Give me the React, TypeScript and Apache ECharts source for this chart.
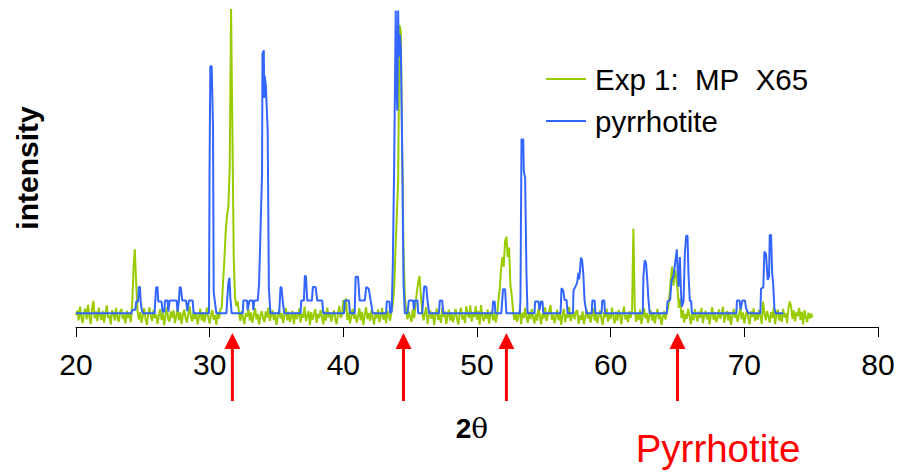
import React, { useEffect, useRef } from "react";
import * as echarts from "echarts";

// Measured pattern of the MP X65 sample (2θ from 20.0 in 0.1° steps)
const expStart = 20;
const expStep = 0.1;
const expIntensity = [
  // 20
  3.8, 5.2, 2.1, 6.4, 3.0, 1.2, 4.6, 5.8, 2.4, 7.0,
  // 21
  3.3, 0.9, 5.5, 8.2, 2.7, 4.9, 1.8, 6.1, 3.6, 2.2,
  // 22
  5.0, 1.4, 4.2, 6.8, 2.9, 3.7, 0.8, 5.3, 4.4, 2.0,
  // 23
  6.0, 3.1, 1.6, 4.8, 5.7, 2.5, 3.9, 1.1, 5.1, 2.8,
  // 24
  4.3, 1.5, 7.0, 18.0, 24.4, 14.0, 5.0, 2.3, 4.7, 1.3,
  // 25
  3.5, 5.9, 2.6, 0.7, 4.1, 6.2, 3.2, 1.9, 5.4, 2.8,
  // 26
  4.0, 1.0, 3.6, 5.6, 2.2, 4.5, 0.6, 3.8, 6.3, 2.4,
  // 27
  1.7, 4.9, 3.0, 5.2, 1.2, 3.4, 6.0, 2.1, 4.6, 0.9,
  // 28
  3.9, 5.5, 2.7, 1.4, 4.2, 6.5, 3.1, 1.8, 5.0, 2.5,
  // 29
  4.4, 0.8, 3.3, 5.8, 2.0, 4.7, 1.5, 3.6, 6.1, 2.9,
  // 30
  1.1, 4.0, 5.3, 2.3, 3.7, 0.7, 4.8, 2.6, 5.6, 6.0,
  // 31
  14.0, 21.0, 30.0, 35.0, 38.0, 50.0, 100.0, 62.0, 22.0, 9.0,
  // 32
  6.5, 8.0, 4.2, 1.9, 5.1, 2.8, 0.9, 4.4, 3.2, 5.7,
  // 33
  2.0, 4.6, 1.3, 3.8, 5.9, 2.4, 4.1, 0.8, 3.5, 5.0,
  // 34
  2.6, 1.5, 4.9, 3.0, 6.2, 1.9, 3.7, 5.3, 2.2, 4.0,
  // 35
  0.7, 3.4, 5.5, 2.7, 4.3, 1.2, 3.9, 6.0, 2.1, 4.8,
  // 36
  1.6, 3.2, 5.1, 0.9, 4.5, 2.5, 3.6, 5.8, 1.4, 4.2,
  // 37
  2.9, 6.4, 1.8, 3.5, 5.0, 0.6, 4.7, 2.3, 3.9, 5.6,
  // 38
  1.3, 4.1, 2.8, 5.4, 3.3, 0.8, 4.9, 2.0, 6.1, 3.0,
  // 39
  4.6, 1.7, 3.7, 5.2, 2.4, 0.9, 4.3, 6.6, 2.9, 3.8,
  // 40
  8.5, 5.0, 9.0, 2.2, 4.5, 1.1, 3.6, 5.7, 2.6, 4.0,
  // 41
  1.4, 3.3, 5.9, 2.1, 4.8, 0.7, 3.9, 6.2, 2.5, 4.4,
  // 42
  1.9, 5.3, 3.0, 0.8, 4.6, 2.7, 5.5, 1.5, 3.4, 6.0,
  // 43
  2.3, 4.1, 1.2, 5.0, 3.6, 2.0, 4.7, 7.0, 12.0, 24.0,
  // 44
  35.0, 46.0, 95.0, 93.0, 56.0, 25.0, 10.0, 5.0, 2.4, 4.9,
  // 45
  3.2, 1.6, 5.6, 2.8, 7.0, 11.0, 14.0, 16.0, 10.0, 5.0,
  // 46
  2.1, 4.3, 6.3, 1.0, 3.5, 5.2, 2.6, 4.6, 0.7, 3.9,
  // 47
  5.8, 2.2, 4.0, 1.3, 6.0, 3.1, 4.9, 0.9, 3.7, 5.4,
  // 48
  2.0, 4.5, 1.5, 3.3, 5.7, 2.7, 0.8, 4.2, 6.1, 2.4,
  // 49
  3.8, 1.2, 6.5, 4.0, 2.9, 6.8, 1.7, 4.6, 3.1, 6.6,
  // 50
  2.3, 5.1, 0.7, 6.9, 3.4, 1.8, 4.4, 2.6, 5.5, 1.1,
  // 51
  3.9, 5.0, 2.1, 4.7, 1.4, 3.6, 8.0, 12.0, 18.0, 22.0,
  // 52
  19.0, 27.0, 28.4, 22.0, 25.0, 13.0, 10.0, 5.0, 2.2, 4.1,
  // 53
  1.6, 3.8, 5.3, 0.9, 4.5, 2.8, 6.0, 3.2, 1.3, 4.8,
  // 54
  2.5, 5.6, 3.0, 1.1, 4.2, 2.0, 5.9, 3.5, 0.8, 4.4,
  // 55
  2.7, 6.2, 1.9, 3.7, 5.0, 6.9, 2.3, 4.0, 1.2, 3.3,
  // 56
  5.4, 2.1, 4.6, 0.7, 3.9, 5.7, 1.5, 4.1, 2.9, 6.3,
  // 57
  1.8, 3.4, 5.1, 2.4, 4.7, 5.3, 1.0, 3.6, 2.2, 4.9,
  // 58
  0.9, 3.1, 5.6, 2.6, 4.3, 1.4, 3.8, 6.0, 2.0, 4.5,
  // 59
  1.2, 3.5, 5.2, 2.8, 0.7, 4.6, 3.0, 5.8, 1.7, 4.0,
  // 60
  2.5, 6.1, 3.3, 1.1, 4.8, 2.0, 5.4, 3.7, 0.8, 4.2,
  // 61
  6.4, 2.4, 3.9, 1.5, 5.0, 2.9, 5.0, 31.0, 6.0, 1.6,
  // 62
  4.3, 2.2, 5.5, 0.9, 3.6, 5.9, 2.7, 4.4, 1.3, 3.8,
  // 63
  5.2, 2.0, 4.6, 1.1, 3.4, 5.7, 2.5, 4.0, 0.7, 3.1,
  // 64
  5.0, 2.3, 4.7, 6.0, 10.0, 15.0, 19.0, 13.0, 18.0, 16.0,
  // 65
  12.0, 6.0, 9.0, 2.8, 5.3, 1.4, 4.1, 2.6, 5.8, 3.5,
  // 66
  0.9, 4.4, 2.1, 5.6, 3.2, 1.7, 4.9, 2.9, 6.0, 1.2,
  // 67
  3.7, 5.1, 2.4, 4.5, 0.8, 3.9, 6.2, 2.2, 4.7, 1.5,
  // 68
  3.0, 5.5, 2.6, 4.1, 6.4, 1.3, 3.6, 5.0, 2.0, 4.8,
  // 69
  0.7, 3.3, 5.7, 2.9, 4.3, 1.6, 3.8, 6.0, 2.4, 4.6,
  // 70
  1.1, 3.5, 5.2, 2.7, 0.8, 4.9, 3.1, 5.9, 1.9, 4.0,
  // 71
  2.3, 5.4, 3.6, 1.0, 8.0, 4.5, 2.1, 5.0, 3.3, 1.4,
  // 72
  4.7, 2.8, 6.1, 0.9, 3.8, 5.5, 2.0, 4.2, 1.6, 5.7,
  // 73
  3.0, 4.4, 1.2, 5.9, 8.0, 6.5, 2.5, 5.2, 1.8, 4.6,
  // 74
  3.4, 6.0, 2.2, 4.8, 0.8, 5.3, 3.1, 1.5, 4.5, 2.7,
  // 75
  4.2, 3.0,
];

// Reference pyrrhotite pattern: [2θ, intensity] breakpoints
const pyrrhotitePattern: [number, number][] = [
  [20.0, 4.3], [24.15, 4.3], [24.2, 5.3], [24.45, 5.5], [24.5, 8.0], [24.65, 8.0], [24.7, 12.6], [24.78, 12.6], [24.85, 7.5], [24.92, 5.5], [25.0, 4.3],
  [25.88, 4.3], [25.93, 8.3], [26.0, 12.5], [26.1, 12.5], [26.15, 8.0], [26.4, 8.0], [26.48, 4.8], [26.6, 4.8], [26.66, 8.3], [26.85, 8.3], [26.91, 4.8], [27.0, 8.3], [27.53, 8.3], [27.6, 4.8], [27.7, 8.3], [27.76, 12.5], [27.84, 12.5], [27.95, 8.3], [28.23, 8.3], [28.33, 5.0], [28.45, 8.3], [28.73, 8.3], [28.8, 4.3],
  [29.95, 4.3], [29.99, 48], [30.05, 82], [30.15, 82], [30.25, 63], [30.3, 11], [30.42, 7], [30.5, 4.3],
  [31.25, 4.3], [31.32, 9], [31.4, 14], [31.48, 15.5], [31.55, 9], [31.65, 4.3],
  [32.48, 4.3], [32.52, 8.3], [32.8, 8.3], [32.84, 5.3], [32.98, 8.3], [33.22, 8.3], [33.27, 5.3], [33.34, 8.3], [33.6, 8.3], [33.7, 13.8], [33.84, 36.5], [33.92, 48], [33.95, 86], [34.05, 87], [34.08, 72], [34.12, 79], [34.2, 76], [34.34, 62], [34.43, 12], [34.55, 4.3],
  [35.2, 4.3], [35.3, 12.5], [35.37, 12.5], [35.47, 8], [35.58, 4.3],
  [36.8, 4.3], [36.85, 8.3], [37.05, 8.3], [37.12, 16], [37.2, 16], [37.3, 8.3], [37.65, 8.3], [37.72, 12.6], [37.92, 12.6], [38.05, 8.3], [38.42, 8.3], [38.5, 4.3],
  [40.05, 4.3], [40.1, 8.3], [40.42, 8.3], [40.5, 4.3], [40.85, 4.3], [40.92, 15.8], [41.1, 15.8], [41.22, 8.3], [41.6, 8.3], [41.72, 12.6], [41.9, 12.0], [42.05, 8.2], [42.2, 4.3],
  [43.2, 4.3], [43.25, 8], [43.45, 8], [43.5, 4.3], [43.62, 5], [43.7, 19], [43.8, 50], [43.92, 99.5], [43.98, 75], [44.04, 68], [44.1, 99.5], [44.15, 85], [44.22, 92], [44.3, 88], [44.36, 70], [44.42, 50], [44.5, 14], [44.6, 4.3],
  [44.8, 4.3], [44.9, 8.3], [45.22, 8.3], [45.28, 5.5], [45.35, 8.3], [45.55, 8.3], [45.6, 4.3], [45.9, 4.3], [45.97, 8.3], [46.05, 12.7], [46.2, 12.7], [46.3, 8.3], [46.42, 4.3], [47.15, 4.3], [47.22, 8.3], [47.4, 8.3], [47.47, 4.3],
  [51.15, 4.3], [51.2, 8.0], [51.32, 8.0], [51.38, 4.3], [51.82, 4.3], [51.88, 8.0], [51.95, 11.9], [52.1, 11.9], [52.2, 4.3],
  [53.2, 4.3], [53.25, 8.5], [53.33, 59], [53.46, 59], [53.5, 49], [53.6, 47], [53.7, 17], [53.78, 4.3],
  [54.3, 4.3], [54.35, 8.0], [54.6, 8.0], [54.68, 5.3], [54.78, 8.0], [54.9, 8.0], [54.96, 4.3],
  [56.25, 4.3], [56.32, 12.2], [56.45, 11.5], [56.55, 8.5], [56.7, 8.5], [56.78, 4.3],
  [57.18, 4.3], [57.22, 11.5], [57.4, 13], [57.5, 14], [57.58, 17], [57.65, 15], [57.78, 21.8], [57.86, 21], [57.95, 17], [58.05, 8.2], [58.2, 4.3],
  [58.58, 4.3], [58.63, 8.3], [58.8, 8.3], [58.86, 4.3],
  [59.32, 4.3], [59.37, 8.3], [59.52, 8.3], [59.58, 4.3],
  [62.4, 4.3], [62.45, 16], [62.55, 21], [62.65, 20], [62.75, 14], [62.82, 9], [62.92, 4.3],
  [64.2, 4.3], [64.25, 8], [64.45, 8.5], [64.55, 14.5], [64.7, 16], [64.85, 21], [64.95, 24.4], [65.02, 17], [65.08, 12.7], [65.18, 22], [65.25, 12], [65.32, 6.4], [65.45, 8], [65.55, 23], [65.65, 28.7], [65.75, 28.7], [65.82, 17], [65.92, 8.2], [66.02, 8.2], [66.08, 4.3],
  [69.4, 4.3], [69.45, 8.3], [69.65, 8.3], [69.72, 5.5], [69.85, 8.3], [70.05, 8.3], [70.12, 6], [70.3, 4.3],
  [71.2, 4.3], [71.25, 12], [71.42, 12.5], [71.5, 23.7], [71.62, 23], [71.75, 14.8], [71.85, 16], [71.9, 28.9], [72.0, 28.9], [72.08, 17], [72.15, 14], [72.25, 6], [72.33, 4.3], [72.92, 4.3],
];

// Positions (2θ) of the pyrrhotite reflections marked with arrows
const pyrrhotitePeaks = [31.7, 44.5, 52.2, 65.0];

const xTicks = { min: 20, max: 80, interval: 10 };
// non-breaking spaces keep the double gaps in the first label
const seriesNames = ["Exp 1:\u00a0 MP\u00a0 X65", "pyrrhotite"];

const SANS = '"Liberation Sans", Arial, sans-serif';

export default function App() {
  const ref = useRef<HTMLDivElement>(null);

  useEffect(() => {
    if (!ref.current) return;
    const chart = echarts.init(ref.current, null, { renderer: "svg" });

    const expData = expIntensity.map((v, i) => [
      Math.round((expStart + i * expStep) * 100) / 100,
      v,
    ]);

    chart.setOption({
      animation: false,
      backgroundColor: "#ffffff",
      grid: { left: 76, right: 23, top: 9, bottom: 145, containLabel: false },
      legend: {
        orient: "vertical",
        left: 541,
        top: 59,
        itemWidth: 40,
        itemHeight: 2,
        itemGap: 12,
        icon: "rect",
        data: seriesNames,
        textStyle: {
          fontSize: 29.5,
          color: "#000",
          fontFamily: SANS,
          padding: [0, 0, 0, 4],
        },
      },
      xAxis: {
        type: "value",
        min: xTicks.min,
        max: xTicks.max,
        interval: xTicks.interval,
        axisLine: { show: true, onZero: false, lineStyle: { color: "#000", width: 1 } },
        axisTick: { show: true, inside: false, length: 10, lineStyle: { color: "#000" } },
        axisLabel: { fontSize: 30, color: "#000", fontFamily: SANS, margin: 22 },
        splitLine: { show: false },
      },
      yAxis: {
        type: "value",
        min: 0,
        max: 100,
        show: false,
        splitLine: { show: false },
      },
      series: [
        {
          name: seriesNames[0],
          type: "line",
          data: expData,
          showSymbol: false,
          symbol: "none",
          lineStyle: { color: "#99cc00", width: 2 },
          itemStyle: { color: "#99cc00" },
          z: 2,
        },
        {
          name: seriesNames[1],
          type: "line",
          data: pyrrhotitePattern,
          showSymbol: false,
          symbol: "none",
          lineStyle: { color: "#3366ff", width: 2 },
          itemStyle: { color: "#3366ff" },
          z: 3,
        },
      ],
    });

    const arrows = pyrrhotitePeaks.flatMap((p) => {
      const px = chart.convertToPixel({ xAxisIndex: 0 }, p) as number;
      return [
        {
          type: "line",
          shape: { x1: px, y1: 401, x2: px, y2: 346 },
          style: { stroke: "#ff0000", lineWidth: 3 },
        },
        {
          type: "polygon",
          shape: { points: [[px - 8, 349], [px + 8, 349], [px, 333]] },
          style: { fill: "#ff0000" },
        },
      ];
    });

    chart.setOption({
      graphic: [
        {
          type: "text",
          x: 27,
          y: 168,
          rotation: Math.PI / 2,
          style: {
            text: "intensity",
            fontSize: 30,
            fontWeight: "bold",
            fontFamily: SANS,
            fill: "#000",
            align: "center",
            verticalAlign: "middle",
          },
        },
        {
          type: "text",
          x: 472,
          y: 428,
          style: {
            text: "{a|2}{b|θ}",
            align: "center",
            verticalAlign: "middle",
            rich: {
              a: { fontSize: 28, fontWeight: "bold", fontFamily: SANS, fill: "#000" },
              b: { fontSize: 28, fontFamily: '"DejaVu Serif", serif', fill: "#000" },
            },
          },
        },
        {
          type: "text",
          x: 718,
          y: 448,
          style: {
            text: "Pyrrhotite",
            fontSize: 38.5,
            fontFamily: SANS,
            fill: "#ff0000",
            align: "center",
            verticalAlign: "middle",
          },
        },
        ...arrows,
      ],
    });

    return () => chart.dispose();
  }, []);

  return (
    <div
      ref={ref}
      style={{ position: "fixed", left: 0, top: 0, width: 901, height: 472 }}
    />
  );
}
